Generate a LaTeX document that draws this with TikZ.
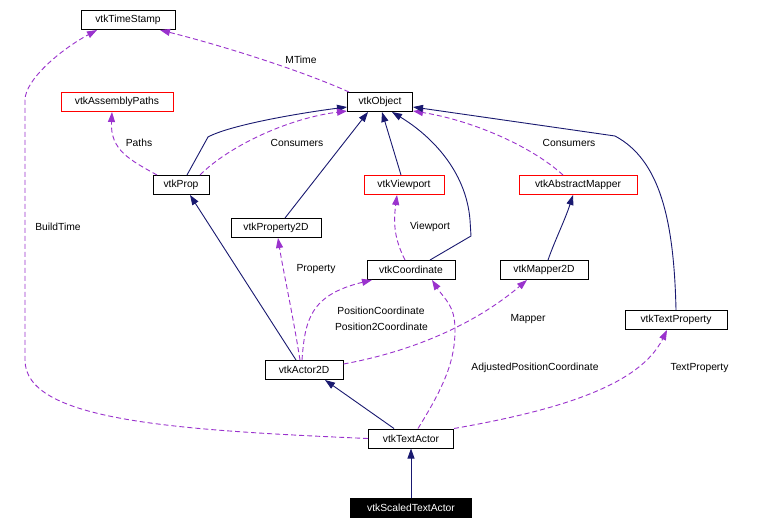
\documentclass[tikz,border=0pt]{standalone}
\usepackage{fontspec}
\setmainfont{Liberation Sans}
\usetikzlibrary{arrows.meta}
\definecolor{navy}{HTML}{191970}
\definecolor{orchid}{HTML}{9A32CD}
\begin{document}
\begin{tikzpicture}[x=1pt,y=-1pt,
  font=\fontsize{10.3}{12}\selectfont,
  cls/.style={draw=black, line width=1pt, minimum height=19pt, inner sep=0pt, fill=white},
  redcls/.style={cls, draw=red},
  inh/.style={draw=navy, line width=0.9pt, -{Triangle[length=10pt,width=7pt]}},
  use/.style={draw=orchid, line width=0.9pt, dash pattern=on 5pt off 3pt, -{Triangle[length=10pt,width=7pt]}},
  lbl/.style={inner sep=0pt}]
\useasboundingbox[fill=white] (0,0) rectangle (762,530);

% classes
\node[cls, minimum width=94pt] (ts) at (128,20) {vtkTimeStamp};
\node[cls, minimum width=65pt] (obj) at (380,102) {vtkObject};
\node[redcls, minimum width=112pt] (ap) at (117,102) {vtkAssemblyPaths};
\node[cls, minimum width=56pt] (prop) at (181,185) {vtkProp};
\node[redcls, minimum width=80pt] (vp) at (404,185) {vtkViewport};
\node[redcls, minimum width=118pt] (am) at (578,185) {vtkAbstractMapper};
\node[cls, minimum width=90pt] (p2d) at (276,228) {vtkProperty2D};
\node[cls, minimum width=88pt] (coord) at (411,270) {vtkCoordinate};
\node[cls, minimum width=88pt] (m2d) at (544,270) {vtkMapper2D};
\node[cls, minimum width=102pt] (tp) at (676,320) {vtkTextProperty};
\node[cls, minimum width=78pt] (a2d) at (304,370) {vtkActor2D};
\node[cls, minimum width=85pt] (ta) at (411,438.5) {vtkTextActor};
\node[cls, fill=black, text=white, minimum width=121pt] (sta) at (411,508) {vtkScaledTextActor};

% connectors
\draw[use] ([xshift=2pt]obj.north west) .. controls (300,70) and (220,45) .. ([xshift=32pt]ts.south);
\draw[use] (ta.west) .. controls (170,430) and (25,420) .. (25,360) -- (25,100) .. controls (25,80) and (60,50) .. ([xshift=-31pt]ts.south);
\draw[use] ([xshift=-24pt]prop.north) .. controls (130,160) and (110,150) .. ([xshift=-5pt]ap.south);
\draw[inh] ([xshift=6pt]prop.north) -- (208,137) .. controls (230,125) and (300,113) .. ([yshift=-5pt]obj.west);
\draw[use] ([xshift=19pt]prop.north) .. controls (230,145) and (290,118) .. ([yshift=1pt]obj.south west);
\draw[inh] ([xshift=9pt]p2d.north) -- ([xshift=-12pt]obj.south);
\draw[inh] ([xshift=-3pt]vp.north) -- ([xshift=2pt]obj.south);
\draw[inh] ([xshift=19pt]coord.north) -- (471,236) -- (470,220) .. controls (466,170) and (430,135) .. ([xshift=12pt]obj.south);
\draw[use] ([xshift=-15pt]am.north) .. controls (530,145) and (470,120) .. ([yshift=1pt]obj.south east);
\draw[inh] (tp.north) .. controls (674,220) and (660,160) .. (615,136) -- ([yshift=-5pt]obj.east);
\draw[use] ([xshift=-6pt]coord.north) .. controls (395,240) and (393,225) .. ([xshift=-7pt]vp.south);
\draw[inh] ([xshift=4pt]m2d.north) .. controls (555,240) and (565,220) .. ([xshift=-5pt]am.south);
\draw[inh] ([xshift=-8pt]a2d.north) -- ([xshift=9pt]prop.south);
\draw[use] ([xshift=-4pt]a2d.north) .. controls (292,310) and (283,270) .. ([xshift=2pt]p2d.south);
\draw[use] ([xshift=-2pt]a2d.north) .. controls (305,320) and (310,295) .. ([xshift=-39pt]coord.south);
\draw[use] ([yshift=6pt]a2d.east) .. controls (420,350) and (480,320) .. ([xshift=-17pt]m2d.south);
\draw[inh] ([xshift=-17pt]ta.north) -- ([xshift=21pt]a2d.south);
\draw[use] ([xshift=7pt]ta.north) .. controls (445,385) and (455,360) .. (455,330) .. controls (455,305) and (445,300) .. ([xshift=21pt]coord.south);
\draw[use] (ta.north east) .. controls (560,410) and (640,385) .. ([xshift=-9pt]tp.south);
\draw[inh] (sta.north) -- (ta.south);

% labels
\node[lbl] (lmtime) at (301,60) {MTime};
\node[lbl] (lpaths) at (139,143) {Paths};
\node[lbl] (lcons1) at (297,143) {Consumers};
\node[lbl] (lcons2) at (569,143) {Consumers};
\node[lbl] (lbuild) at (58,227) {BuildTime};
\node[lbl] (lview) at (430,227) {Viewport};
\node[lbl] (lprop) at (316,269) {Property};
\node[lbl] (lpos1) at (381,311) {PositionCoordinate};
\node[lbl] (lpos2) at (381.5,327) {Position2Coordinate};
\node[lbl] (lmap) at (528,319) {Mapper};
\node[lbl] (ladj) at (535,368) {AdjustedPositionCoordinate};
\node[lbl] (ltp) at (699.5,368) {TextProperty};
\end{tikzpicture}
\end{document}
